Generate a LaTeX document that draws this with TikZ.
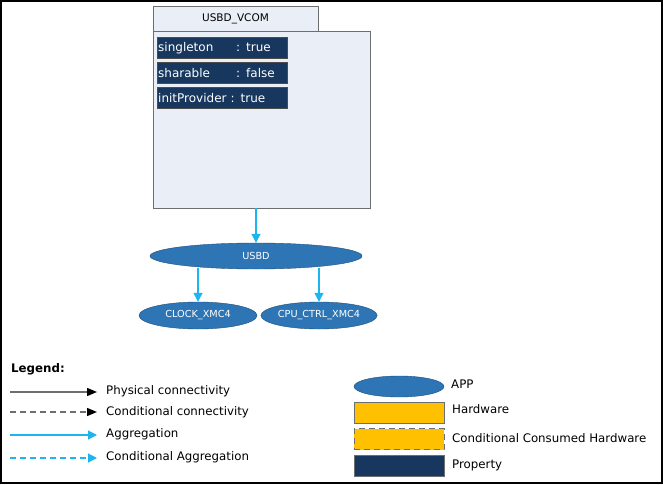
\documentclass[tikz,border=0pt]{standalone}
\usepackage{fontspec}
\setmainfont{DejaVu Sans}
\usetikzlibrary{shapes,arrows.meta,positioning}
\definecolor{propblue}{HTML}{17375E}
\definecolor{appblue}{HTML}{2E75B6}
\definecolor{appedge}{HTML}{1F4E79}
\definecolor{aggcyan}{HTML}{1CB5F0}
\definecolor{bodyfill}{HTML}{E9EEF7}
\definecolor{hwyellow}{HTML}{FFC000}
\definecolor{edgegray}{HTML}{6E6E6E}
\tikzset{
    x=1pt,y=-1pt,
    app/.style ={ellipse, draw=appedge, fill=appblue, text=white, inner sep=0pt,
                 font=\fontsize{9.7}{11}\selectfont},
    prop/.style ={rectangle, draw=black!70, fill=propblue, text=white, anchor=north west,
                  inner sep=1pt, minimum width=130, minimum height=21, align=left,
                  text width=128, font=\fontsize{12}{13}\selectfont},
    hw/.style ={rectangle, draw=edgegray, fill=hwyellow, minimum width=90, minimum height=21,
                inner sep=0pt},
    agg/.style ={-{Triangle[length=9pt,width=9pt]}, aggcyan, line width=1.2pt},
    phys/.style ={-{Triangle[length=10pt,width=8pt,black]}, edgegray, line width=1.4pt},
    cond/.style ={dash pattern=on 6pt off 4pt},
    lab/.style ={anchor=west, inner sep=0pt, font=\fontsize{11.8}{13}\selectfont}
}
\newcommand{\propname}[1]{\makebox[78pt][l]{#1}}
\begin{document}
\begin{tikzpicture}
    \useasboundingbox (0,0) rectangle (663,484);
    \draw[line width=2pt] (1,1) rectangle (662,483);

    % component
    \node[draw=edgegray, fill=bodyfill, minimum width=165, minimum height=25, inner sep=0pt,
          font=\fontsize{10.5}{12}\selectfont] (tab) at (235.5,18.5) {USBD\_VCOM};
    \node[draw=edgegray, fill=bodyfill, minimum width=217, minimum height=177, inner sep=0pt,
          anchor=north west] (body) at (153,31) {};
    \node[prop] (singleton) at (157,37) {\propname{singleton}: true};
    \node[prop] (sharable) at (157,62) {\propname{sharable}: false};
    \node[prop] (initprov) at (157,87) {initProvider : true};

    % apps
    \node[app, minimum width=212, minimum height=26] (usbd) at (256,256) {USBD};
    \node[app, minimum width=118, minimum height=27] (clock) at (198,315.5) {CLOCK\_XMC4};
    \node[app, minimum width=115, minimum height=27] (cpu) at (319,315.5) {CPU\_CTRL\_XMC4};

    \draw[agg] (body.south -| usbd) -- (usbd.north);
    \draw[agg] (usbd.south -| clock) ++(0,-1.5) -- (clock.north);
    \draw[agg] (usbd.south -| cpu) ++(0,-1.5) -- (cpu.north);

    % legend
    \node[anchor=west, inner sep=0pt, font=\bfseries\fontsize{11.8}{13}\selectfont] (legend) at (11,369) {Legend:};
    \coordinate (l1) at (10,392);
    \coordinate (l2) at (10,412);
    \coordinate (l3) at (10,435);
    \coordinate (l4) at (10,458);
    \node[lab] (t1) at (106,391) {Physical connectivity};
    \node[lab] (t2) at (106,412) {Conditional connectivity};
    \node[lab] (t3) at (106,434) {Aggregation};
    \node[lab] (t4) at (106,457) {Conditional Aggregation};
    \draw[phys] (l1) -- ([xshift=-9pt]t1.west |- l1);
    \draw[phys, cond] (l2) -- ([xshift=-9pt]t2.west |- l2);
    \draw[agg] (l3) -- ([xshift=-9pt]t3.west |- l3);
    \draw[agg, cond] (l4) -- ([xshift=-9pt]t4.west |- l4);

    \node[app, minimum width=90, minimum height=21] (appkey) at (399,386.5) {};
    \node[hw] (hwkey) at (399,412.5) {};
    \node[hw, cond] (condkey) at (399,439) {};
    \node[hw, fill=propblue] (propkey) at (399,465.5) {};
    \node[lab] at (451,384) {APP};
    \node[lab] at (452,409.5) {Hardware};
    \node[lab] at (452,438) {Conditional Consumed Hardware};
    \node[lab] at (452,465.5) {Property};
\end{tikzpicture}
\end{document}
